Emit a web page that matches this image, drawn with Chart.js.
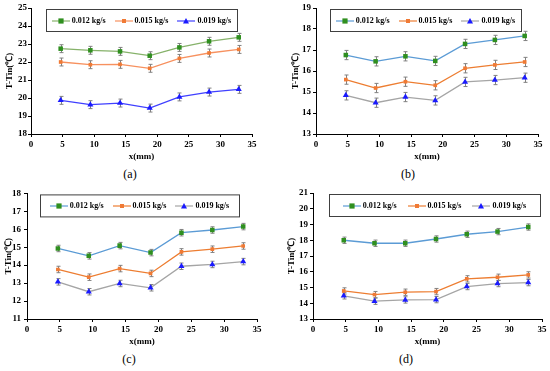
<!DOCTYPE html>
<html lang="en">
<head>
<meta charset="UTF-8" />
<title>T-Tin along x</title>
<script src="https://cdn.jsdelivr.net/npm/chart.js"></script>
<style>
  body {
    margin: 0;
    width: 550px;
    height: 371px;
    position: relative;
    overflow: hidden;
    background: #fff;
    font-family: 'Liberation Serif', serif;
  }
  canvas { position: absolute; }
  .cap {
    position: absolute;
    font-size: 12px;
    line-height: 14px;
    transform: translateX(-50%);
    color: #000;
  }
</style>
</head>
<body>
<canvas id="chartA" width="275" height="162" style="left:0;top:0"></canvas>
<canvas id="chartB" width="275" height="162" style="left:275px;top:0"></canvas>
<canvas id="chartC" width="275" height="162" style="left:0;top:185px"></canvas>
<canvas id="chartD" width="275" height="162" style="left:275px;top:185px"></canvas>
<div class="cap" style="left:130px;top:167px">(a)</div>
<div class="cap" style="left:408px;top:167px">(b)</div>
<div class="cap" style="left:129px;top:352px">(c)</div>
<div class="cap" style="left:406px;top:352px">(d)</div>

<script>
  // positions along the channel (mm)
  const xPos = [4.7, 9.4, 14.1, 18.8, 23.5, 28.2, 32.9];
  const seriesNames = ['0.012 kg/s', '0.015 kg/s', '0.019 kg/s'];

  const panelA012 = [22.74, 22.65, 22.59, 22.35, 22.81, 23.15, 23.37];
  const panelA015 = [22.00, 21.85, 21.87, 21.65, 22.20, 22.50, 22.70];
  const panelA019 = [19.87, 19.63, 19.72, 19.44, 20.06, 20.33, 20.48];

  const panelB012 = [16.76, 16.46, 16.70, 16.48, 17.29, 17.48, 17.67];
  const panelB015 = [15.59, 15.19, 15.49, 15.32, 16.13, 16.29, 16.43];
  const panelB019 = [14.84, 14.49, 14.76, 14.60, 15.48, 15.57, 15.68];

  const panelC012 = [14.93, 14.52, 15.09, 14.70, 15.81, 15.96, 16.15];
  const panelC015 = [13.76, 13.33, 13.81, 13.54, 14.74, 14.89, 15.07];
  const panelC019 = [13.07, 12.52, 12.98, 12.74, 13.94, 14.04, 14.20];

  const panelD012 = [18.00, 17.81, 17.81, 18.08, 18.38, 18.55, 18.84];
  const panelD015 = [14.78, 14.55, 14.70, 14.74, 15.55, 15.65, 15.80];
  const panelD019 = [14.47, 14.13, 14.21, 14.23, 15.06, 15.25, 15.31];

  // error bar half heights (same unit as y)
  const errA = 0.22, errB = 0.22, errC = 0.18, errD = 0.2;

  const yRangeA = [18, 25];
  const yRangeB = [13, 19];
  const yRangeC = [11, 18];
  const yRangeD = [13, 21];

  const markerColors = ['#2f8f1f', '#f07a35', '#1a1aff'];
  const markerShapes = ['rect', 'rect', 'triangle'];
  const markerSizes = [2.6, 2, 3];
  const linesA = ['#86b26a', '#f7915f', '#4040ff'];
  const linesOther = ['#5b9bd5', '#ed7d31', '#a5a5a5'];

  const serif = "'Liberation Serif', 'Times New Roman', serif";

  function legendIcon(lineColor, i) {
    const c = document.createElement('canvas');
    c.width = 18; c.height = 8;
    const g = c.getContext('2d');
    g.strokeStyle = lineColor; g.lineWidth = 1.2;
    g.beginPath(); g.moveTo(0, 4); g.lineTo(18, 4); g.stroke();
    g.fillStyle = markerColors[i];
    const r = markerSizes[i];
    if (markerShapes[i] === 'triangle') {
      g.beginPath(); g.moveTo(9, 4 - r); g.lineTo(9 + r, 4 + r * 0.8); g.lineTo(9 - r, 4 + r * 0.8); g.closePath(); g.fill();
    } else {
      g.fillRect(9 - r, 4 - r, r * 2, r * 2);
    }
    return c;
  }

  const errorBars = {
    id: 'errorBars',
    beforeDatasetsDraw(chart, args, opts) {
      const { ctx, scales: { x, y } } = chart;
      ctx.save();
      ctx.strokeStyle = '#808080';
      ctx.lineWidth = 1;
      chart.data.datasets.forEach(ds => {
        ds.data.forEach(p => {
          const px = Math.round(x.getPixelForValue(p.x)) + 0.5;
          const top = y.getPixelForValue(p.y + opts.err);
          const bot = y.getPixelForValue(p.y - opts.err);
          ctx.beginPath();
          ctx.moveTo(px, top); ctx.lineTo(px, bot);
          ctx.moveTo(px - 2, top); ctx.lineTo(px + 2, top);
          ctx.moveTo(px - 2, bot); ctx.lineTo(px + 2, bot);
          ctx.stroke();
        });
      });
      ctx.restore();
    }
  };

  // boxed legend inside the plot area, one row
  const boxLegend = {
    id: 'boxLegend',
    afterDraw(chart, args, opts) {
      const { ctx, chartArea } = chart;
      ctx.save();
      ctx.font = 'bold 8px ' + serif;
      const items = chart.data.datasets.map((ds, i) => ({ ds, i, w: ctx.measureText(ds.label).width }));
      const iconW = 18, iconGap = 2;
      const total = items.reduce((s, it) => s + iconW + iconGap + it.w, 0) + opts.gap * (items.length - 1);
      const mid = (chartArea.left + chartArea.right) / 2 + opts.shift;
      const boxLeft = Math.round(mid - opts.width / 2) + 0.5;
      const top = chartArea.top + 1.5, h = 22;
      ctx.fillStyle = '#fff';
      ctx.fillRect(boxLeft, top, opts.width, h);
      ctx.strokeStyle = '#404040';
      ctx.lineWidth = 1;
      ctx.strokeRect(boxLeft, top, opts.width, h);
      let x = mid - total / 2;
      const cy = top + h / 2;
      ctx.fillStyle = '#000';
      ctx.textBaseline = 'middle';
      items.forEach(it => {
        ctx.drawImage(legendIcon(it.ds.borderColor, it.i), Math.round(x), Math.round(cy - 4));
        ctx.fillText(it.ds.label, x + iconW + iconGap, cy + 0.5);
        x += iconW + iconGap + it.w + opts.gap;
      });
      ctx.restore();
    }
  };

  function makePanel(id, series, lineColors, yRange, err, pad, yWidth, yTickPad, legendOpts) {
    const datasets = series.map((vals, i) => ({
      label: seriesNames[i],
      data: vals.map((v, k) => ({ x: xPos[k], y: v })),
      borderColor: lineColors[i],
      borderWidth: 1.3,
      pointStyle: markerShapes[i],
      pointRadius: markerSizes[i] + (markerShapes[i] === 'triangle' ? 0.5 : 0.6),
      pointBackgroundColor: markerColors[i],
      pointBorderColor: markerColors[i],
      pointBorderWidth: 0,
      tension: 0
    }));

    new Chart(document.getElementById(id), {
      type: 'line',
      data: { datasets },
      options: {
        responsive: false,
        animation: false,
        layout: { padding: { left: pad[0], right: pad[1], top: 8, bottom: 0 } },
        scales: {
          x: {
            type: 'linear',
            min: 0, max: 35,
            afterFit: s => { s.height = 28; },
            border: { color: '#000', width: 1 },
            grid: { drawOnChartArea: false, tickLength: 3, color: '#000' },
            ticks: { stepSize: 5, padding: 2, color: '#000', maxRotation: 0,
                     font: { family: serif, size: 9, weight: 'bold' } },
            title: { display: true, text: 'x(mm)', color: '#000', padding: 0,
                     font: { family: serif, size: 9, weight: 'bold' } }
          },
          y: {
            min: yRange[0], max: yRange[1],
            afterFit: s => { s.width = yWidth; },
            border: { color: '#000', width: 1 },
            grid: { drawOnChartArea: false, tickLength: 3, color: '#000' },
            ticks: { stepSize: 1, padding: yTickPad, color: '#000',
                     font: { family: serif, size: 9, weight: 'bold' } },
            title: { display: true, text: 'T-Tin(℃)', color: '#000', padding: 0,
                     font: { family: serif, size: 9, weight: 'bold' } }
          }
        },
        plugins: {
          errorBars: { err },
          boxLegend: legendOpts,
          tooltip: { enabled: false },
          legend: { display: false }
        }
      },
      plugins: [errorBars, boxLegend]
    });
  }

  makePanel('chartA', [panelA012, panelA015, panelA019], linesA, yRangeA, errA, [4, 23], 27, 1,
            { width: 191, shift: 0, gap: 9 });
  makePanel('chartB', [panelB012, panelB015, panelB019], linesOther, yRangeB, errB, [15, 12], 26, 2,
            { width: 191, shift: -1.5, gap: 9 });
  makePanel('chartC', [panelC012, panelC015, panelC019], linesOther, yRangeC, errC, [3, 18], 24, 3,
            { width: 199, shift: -2.5, gap: 9 });
  makePanel('chartD', [panelD012, panelD015, panelD019], linesOther, yRangeD, errD, [11, 8], 27, 2,
            { width: 211, shift: 7, gap: 11 });
</script>
</body>
</html>
